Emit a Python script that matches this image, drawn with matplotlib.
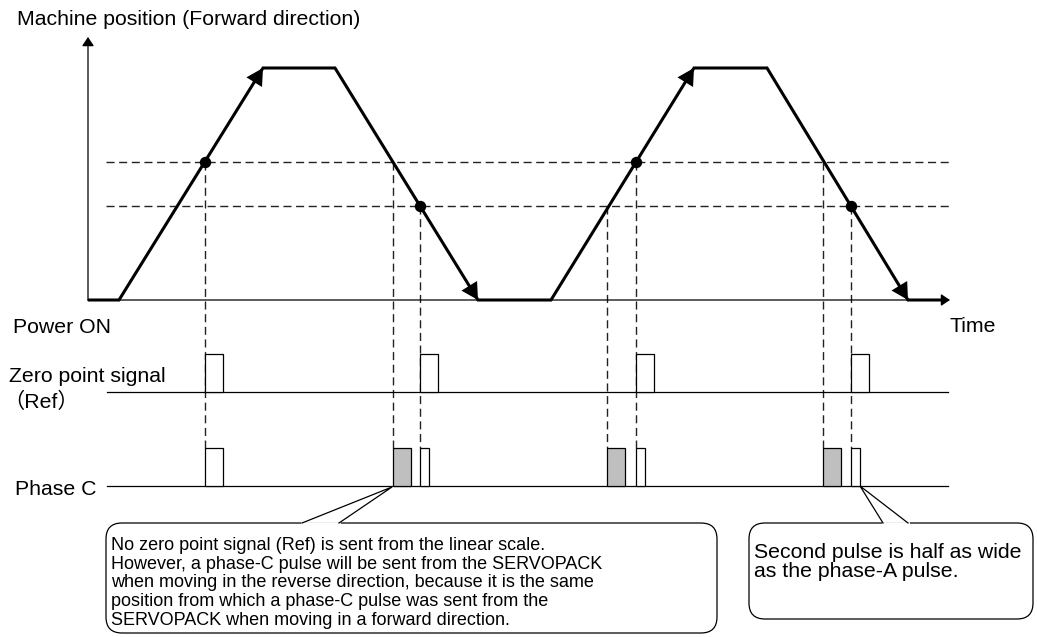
import matplotlib
matplotlib.use("Agg")
import matplotlib.pyplot as plt
from matplotlib.patches import FancyBboxPatch, FancyArrowPatch

plt.rcParams["font.family"] = ["Liberation Sans", "Noto Sans CJK JP", "DejaVu Sans"]

# motion profile (time, machine position) in pixel units
t_profile   = [88, 119, 263, 335, 478, 551, 694, 767, 908, 942]
pos_profile = [300, 300, 68, 68, 300, 300, 68, 68, 300, 300]

# the two reference positions (dashed lines)
ref_levels = [162, 206]

# points where the zero point signal is detected (dots)
dot_t   = [205, 420, 636, 851]
dot_pos = [162, 206, 162, 206]

# crossings without a Ref signal (grey phase-C pulses)
cross_t   = [393, 607, 823]
cross_pos = [162, 206, 162]

# pulses
zero_pulse_t   = [205, 420, 636, 851]
phase_c_wide_t = [205]
phase_c_grey_t = [393, 607, 823]
phase_c_half_t = [420, 636, 851]
pulse_w = 18

note_left = [
    "No zero point signal (Ref) is sent from the linear scale.",
    "However, a phase-C pulse will be sent from the SERVOPACK",
    "when moving in the reverse direction, because it is the same",
    "position from which a phase-C pulse was sent from the",
    "SERVOPACK when moving in a forward direction.",
]
note_right = [
    "Second pulse is half as wide",
    "as the phase-A pulse.",
]

fig = plt.figure(figsize=(10.37, 6.37), dpi=100)
ax = fig.add_axes([0, 0, 1, 1])
ax.set_xlim(0, 1037)
ax.set_ylim(637, 0)
ax.axis("off")

lbl = 15.3
dash = (0, (5.8, 3.3))
base_y, zero_y, phc_y = 300, 392, 486
x0, x_end = 88, 949

# axes with arrows
ax.annotate("", xy=(x0, 37), xytext=(x0, base_y + 0.5),
            arrowprops=dict(arrowstyle="-|>,head_length=0.45,head_width=0.3", lw=0.9,
                            color="black", mutation_scale=12, shrinkA=0, shrinkB=0))
ax.annotate("", xy=(x_end + 1, base_y), xytext=(x0, base_y),
            arrowprops=dict(arrowstyle="-|>,head_length=0.45,head_width=0.3", lw=0.9,
                            color="black", mutation_scale=12, shrinkA=0, shrinkB=0))

# reference levels
for lv in ref_levels:
    ax.plot([106, 950], [lv, lv], color="#222222", lw=1.0, ls=dash)

# vertical dashed projections down to the phase-C pulses
top_c = phc_y - 38
for t, p in zip(dot_t + cross_t, dot_pos + cross_pos):
    ax.plot([t, t], [p, top_c], color="#222222", lw=1.0, ls=dash)

# motion profile
ax.plot(t_profile, pos_profile, color="black", lw=2.2, solid_joinstyle="miter",
        solid_capstyle="butt", zorder=4)
for i in [1, 3, 5, 7]:
    tip = (t_profile[i + 1], pos_profile[i + 1])
    frm = (t_profile[i] + 0.8 * (tip[0] - t_profile[i]), pos_profile[i] + 0.8 * (tip[1] - pos_profile[i]))
    ax.add_patch(FancyArrowPatch(frm, tip, arrowstyle="-|>,head_length=0.4,head_width=0.22",
                                 mutation_scale=30, color="black", lw=0, shrinkA=0, shrinkB=0,
                                 zorder=5))
ax.plot(dot_t, dot_pos, "o", color="black", ms=7.2, zorder=6)

# signal lines
ax.plot([107, 948], [zero_y, zero_y], color="black", lw=0.9)
ax.plot([107, 948], [phc_y, phc_y], color="black", lw=0.9)

ax.bar(zero_pulse_t, -38, width=pulse_w, bottom=zero_y, align="edge",
       color="white", edgecolor="black", lw=0.9, zorder=3)
ax.bar(phase_c_wide_t, -38, width=pulse_w, bottom=phc_y, align="edge",
       color="white", edgecolor="black", lw=0.9, zorder=3)
ax.bar(phase_c_grey_t, -38, width=pulse_w, bottom=phc_y, align="edge",
       color="#bfbfbf", edgecolor="black", lw=0.9, zorder=3)
ax.bar(phase_c_half_t, -38, width=pulse_w / 2, bottom=phc_y, align="edge",
       color="white", edgecolor="black", lw=0.9, zorder=3)

# labels
ax.text(17, 25, "Machine position (Forward direction)", fontsize=lbl, va="baseline")
ax.text(13, 333, "Power ON", fontsize=lbl, va="baseline")
ax.text(949, 332, "Time", fontsize=lbl, va="baseline")
ax.text(9, 382, "Zero point signal", fontsize=lbl, va="baseline")
ax.text(3, 408, "（Ref）", fontsize=lbl, va="baseline")
ax.text(15, 495, "Phase C", fontsize=lbl, va="baseline")


def callout(x, y, w, h, tip, b1, b2):
    ax.add_patch(FancyBboxPatch((x, y), w, h, boxstyle="round,pad=0,rounding_size=16",
                                facecolor="white", edgecolor="black", lw=0.9, zorder=2))
    ax.plot([b1, b2], [y, y], color="white", lw=2, zorder=3)
    ax.plot([b1, tip[0], b2], [y, tip[1], y], color="black", lw=0.9, zorder=3,
            solid_joinstyle="miter")


callout(106, 523, 611, 110, (392, 487), 302, 339)
callout(749, 523, 284, 96, (860, 486), 883, 908)

for i, s in enumerate(note_left):
    ax.text(111, 550 + 18.7 * i, s, fontsize=13, va="baseline", zorder=4)
for i, s in enumerate(note_right):
    ax.text(754, 558 + 19 * i, s, fontsize=lbl, va="baseline", zorder=4)

fig.savefig("out.png", dpi=100)
